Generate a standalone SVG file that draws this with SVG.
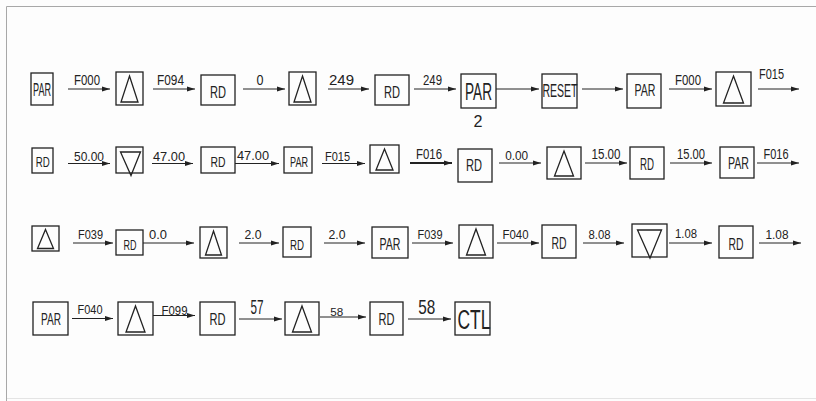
<svg xmlns="http://www.w3.org/2000/svg" width="816" height="401" viewBox="0 0 816 401">
<defs>
<marker id="ah" viewBox="0 0 8 6" refX="8" refY="3" markerWidth="8" markerHeight="6" markerUnits="userSpaceOnUse" orient="auto">
<path d="M0,0.6 L8,3 L0,5.4 Z" fill="#222"/>
</marker>
<style>
.b{fill:none;stroke:#222;stroke-width:1.3}
.t{font-family:"Liberation Sans Narrow","Liberation Sans",Arial,sans-serif;fill:#222;text-anchor:middle}
.c line{stroke:#222;stroke-width:1;marker-end:url(#ah)}
.c text{font-family:"Liberation Sans Narrow","Liberation Sans",Arial,sans-serif;fill:#222;text-anchor:middle}
</style>
</defs>
<rect x="0" y="0" width="816" height="401" fill="#fdfdfd"/>
<path d="M6.5,401 V6.5 H816" fill="none" stroke="#a8a8a8" stroke-width="1"/>
<line x1="7" y1="398.5" x2="816" y2="398.5" stroke="#e4e4e4" stroke-width="1"/>

<!-- Row 1 -->
<g id="n1"><rect class="b" x="31" y="73" width="22" height="32"/><text class="t" x="42" y="96" font-size="18" textLength="18" lengthAdjust="spacingAndGlyphs">PAR</text></g>
<g id="n2"><rect class="b" x="116" y="72" width="27" height="33"/><path class="b" d="M129.5,76 L138,102 L121,102 Z"/></g>
<g id="n3"><rect class="b" x="201" y="75" width="34" height="30"/><text class="t" x="218" y="98" font-size="16" textLength="16" lengthAdjust="spacingAndGlyphs">RD</text></g>
<g id="n4"><rect class="b" x="289" y="72" width="27" height="33"/><path class="b" d="M302.5,76 L311,102 L294,102 Z"/></g>
<g id="n5"><rect class="b" x="375" y="75" width="34" height="30"/><text class="t" x="392" y="98" font-size="16" textLength="16" lengthAdjust="spacingAndGlyphs">RD</text></g>
<g id="n6"><rect class="b" x="461" y="74" width="35" height="34"/><text class="t" x="478.5" y="100" font-size="23" textLength="27" lengthAdjust="spacingAndGlyphs">PAR</text><text class="t" x="478" y="127" font-size="17" textLength="9" lengthAdjust="spacingAndGlyphs">2</text></g>
<g id="n7"><rect class="b" x="542" y="74" width="35" height="34"/><text class="t" x="560" y="97" font-size="19" textLength="35" lengthAdjust="spacingAndGlyphs">RESET</text></g>
<g id="n8"><rect class="b" x="627" y="74" width="34" height="34"/><text class="t" x="645" y="96" font-size="16" textLength="21" lengthAdjust="spacingAndGlyphs">PAR</text></g>
<g id="n9"><rect class="b" x="716" y="72" width="35" height="34"/><path class="b" d="M733.5,76 L743.5,103 L723.5,103 Z"/></g>

<!-- Row 2 -->
<g id="n10"><rect class="b" x="32" y="148" width="21" height="25"/><text class="t" x="42.7" y="167" font-size="15" textLength="14" lengthAdjust="spacingAndGlyphs">RD</text></g>
<g id="n11"><rect class="b" x="116" y="147" width="27" height="26"/><path class="b" d="M120.5,152 L140.5,152 L131,175.5 Z"/></g>
<g id="n12"><rect class="b" x="201" y="147" width="34" height="26"/><text class="t" x="218" y="167" font-size="15" textLength="15" lengthAdjust="spacingAndGlyphs">RD</text></g>
<g id="n13"><rect class="b" x="284" y="147" width="28" height="26"/><text class="t" x="299" y="167" font-size="15" textLength="18" lengthAdjust="spacingAndGlyphs">PAR</text></g>
<g id="n14"><rect class="b" x="370" y="145" width="29" height="28"/><path class="b" d="M384.5,149 L393,170 L376,170 Z"/></g>
<g id="n15"><rect class="b" x="458" y="149" width="34" height="33"/><text class="t" x="474" y="170.5" font-size="17" textLength="16" lengthAdjust="spacingAndGlyphs">RD</text></g>
<g id="n16"><rect class="b" x="547" y="147" width="34" height="32"/><path class="b" d="M564,151 L573.5,176 L554.5,176 Z"/></g>
<g id="n17"><rect class="b" x="630" y="147" width="34" height="32"/><text class="t" x="647" y="170" font-size="16" textLength="14" lengthAdjust="spacingAndGlyphs">RD</text></g>
<g id="n18"><rect class="b" x="720" y="147" width="34" height="31"/><text class="t" x="738.5" y="168.5" font-size="16" textLength="21" lengthAdjust="spacingAndGlyphs">PAR</text></g>

<!-- Row 3 -->
<g id="n19"><rect class="b" x="32" y="226" width="27" height="25"/><path class="b" d="M45.5,229.5 L53.5,248.5 L37.5,248.5 Z"/></g>
<g id="n20"><rect class="b" x="116" y="230" width="27" height="25"/><text class="t" x="130" y="250" font-size="15" textLength="13" lengthAdjust="spacingAndGlyphs">RD</text></g>
<g id="n21"><rect class="b" x="200" y="227" width="27" height="31"/><path class="b" d="M213.5,231 L221.5,255 L205.5,255 Z"/></g>
<g id="n22"><rect class="b" x="283" y="227" width="28" height="30"/><text class="t" x="297" y="250" font-size="15" textLength="14" lengthAdjust="spacingAndGlyphs">RD</text></g>
<g id="n23"><rect class="b" x="372" y="227" width="36" height="31"/><text class="t" x="390" y="250" font-size="17" textLength="21" lengthAdjust="spacingAndGlyphs">PAR</text></g>
<g id="n24"><rect class="b" x="459" y="225" width="34" height="33"/><path class="b" d="M476,229 L485.5,255 L466.5,255 Z"/></g>
<g id="n25"><rect class="b" x="542" y="225" width="34" height="33"/><text class="t" x="559" y="248.5" font-size="16" textLength="15" lengthAdjust="spacingAndGlyphs">RD</text></g>
<g id="n26"><rect class="b" x="632" y="224" width="35" height="33"/><path class="b" d="M637.5,230 L661.5,230 L650,258 Z"/></g>
<g id="n27"><rect class="b" x="719" y="226" width="34" height="32"/><text class="t" x="736" y="250" font-size="17" textLength="15" lengthAdjust="spacingAndGlyphs">RD</text></g>

<!-- Row 4 -->
<g id="n28"><rect class="b" x="33" y="302" width="35" height="33"/><text class="t" x="51" y="325" font-size="16" textLength="20" lengthAdjust="spacingAndGlyphs">PAR</text></g>
<g id="n29"><rect class="b" x="118" y="302" width="35" height="33"/><path class="b" d="M135.5,306 L145,332 L126,332 Z"/></g>
<g id="n30"><rect class="b" x="200" y="302" width="35" height="33"/><text class="t" x="217.5" y="325" font-size="16" textLength="16" lengthAdjust="spacingAndGlyphs">RD</text></g>
<g id="n31"><rect class="b" x="285" y="302" width="34" height="33"/><path class="b" d="M302,306 L311.5,332 L292.5,332 Z"/></g>
<g id="n32"><rect class="b" x="370" y="302" width="33" height="33"/><text class="t" x="386.5" y="325" font-size="16" textLength="16" lengthAdjust="spacingAndGlyphs">RD</text></g>
<g id="n33"><rect class="b" x="455" y="302" width="35" height="33"/><text class="t" x="474" y="328.5" font-size="27" textLength="33" lengthAdjust="spacingAndGlyphs">CTL</text></g>

<g id="connectors" class="c">
<!-- Row 1 -->
<line x1="68" y1="89" x2="110" y2="89"/><text x="87" y="84.5" font-size="14" textLength="26" lengthAdjust="spacingAndGlyphs">F000</text>
<line x1="153" y1="89" x2="195" y2="89"/><text x="170.5" y="84.5" font-size="14" textLength="27" lengthAdjust="spacingAndGlyphs">F094</text>
<line x1="243" y1="89" x2="285" y2="89"/><text x="260" y="84.5" font-size="14" textLength="7" lengthAdjust="spacingAndGlyphs">0</text>
<line x1="328" y1="89" x2="369" y2="89"/><text x="341.5" y="84.5" font-size="14" textLength="25" lengthAdjust="spacingAndGlyphs">249</text>
<line x1="414" y1="89" x2="456" y2="89"/><text x="432.5" y="84.5" font-size="14" textLength="19" lengthAdjust="spacingAndGlyphs">249</text>
<line x1="496" y1="89" x2="539" y2="89"/>
<line x1="582" y1="89" x2="623" y2="89"/>
<line x1="669" y1="89" x2="712" y2="89"/><text x="688" y="85" font-size="14.5" textLength="26" lengthAdjust="spacingAndGlyphs">F000</text>
<line x1="758" y1="89" x2="799" y2="89"/><text x="771.5" y="79" font-size="14.5" textLength="25" lengthAdjust="spacingAndGlyphs">F015</text>
<!-- Row 2 -->
<line x1="68" y1="163.5" x2="110" y2="163.5"/><text x="89" y="161" font-size="13" textLength="30" lengthAdjust="spacingAndGlyphs">50.00</text>
<line x1="152" y1="163.5" x2="193" y2="163.5"/><text x="169" y="161" font-size="13" textLength="32" lengthAdjust="spacingAndGlyphs">47.00</text>
<line x1="235" y1="163.5" x2="279" y2="163.5"/><text x="253" y="160" font-size="13" textLength="32" lengthAdjust="spacingAndGlyphs">47.00</text>
<line x1="322" y1="163.5" x2="365" y2="163.5"/><text x="337.5" y="160.5" font-size="13" textLength="25" lengthAdjust="spacingAndGlyphs">F015</text>
<line x1="410" y1="163" x2="452" y2="163" style="stroke-width:2"/><text x="429" y="158.5" font-size="14" textLength="26" lengthAdjust="spacingAndGlyphs">F016</text>
<line x1="499" y1="163" x2="541" y2="163"/><text x="516.7" y="159.5" font-size="13" textLength="23" lengthAdjust="spacingAndGlyphs">0.00</text>
<line x1="585" y1="163" x2="627" y2="163"/><text x="606" y="159" font-size="14" textLength="29" lengthAdjust="spacingAndGlyphs">15.00</text>
<line x1="670" y1="163" x2="712" y2="163"/><text x="691" y="159" font-size="14" textLength="28" lengthAdjust="spacingAndGlyphs">15.00</text>
<line x1="757" y1="163" x2="799" y2="163"/><text x="776" y="158.5" font-size="14" textLength="25" lengthAdjust="spacingAndGlyphs">F016</text>
<!-- Row 3 -->
<line x1="73" y1="243" x2="113" y2="243"/><text x="90.5" y="238.5" font-size="12.5" textLength="25" lengthAdjust="spacingAndGlyphs">F039</text>
<line x1="143" y1="243" x2="194" y2="243"/><text x="158" y="239" font-size="12.5" textLength="18" lengthAdjust="spacingAndGlyphs">0.0</text>
<line x1="239" y1="243" x2="279" y2="243"/><text x="253" y="239" font-size="12.5" textLength="17" lengthAdjust="spacingAndGlyphs">2.0</text>
<line x1="324" y1="243" x2="365" y2="243"/><text x="337" y="239" font-size="12.5" textLength="17" lengthAdjust="spacingAndGlyphs">2.0</text>
<line x1="412" y1="243" x2="453" y2="243"/><text x="430" y="238.5" font-size="13" textLength="25" lengthAdjust="spacingAndGlyphs">F039</text>
<line x1="497" y1="243" x2="539" y2="243"/><text x="515.5" y="238.5" font-size="13" textLength="26" lengthAdjust="spacingAndGlyphs">F040</text>
<line x1="583" y1="243" x2="624" y2="243"/><text x="599.5" y="238.5" font-size="13" textLength="22" lengthAdjust="spacingAndGlyphs">8.08</text>
<line x1="669" y1="243" x2="712" y2="243"/><text x="686" y="237.5" font-size="13" textLength="22" lengthAdjust="spacingAndGlyphs">1.08</text>
<line x1="759" y1="243" x2="801" y2="243"/><text x="777" y="238.5" font-size="13" textLength="23" lengthAdjust="spacingAndGlyphs">1.08</text>
<!-- Row 4 -->
<line x1="72" y1="318.5" x2="113" y2="318.5"/><text x="90" y="313.5" font-size="13" textLength="25" lengthAdjust="spacingAndGlyphs">F040</text>
<line x1="153" y1="315.5" x2="195" y2="315.5"/><text x="174.5" y="314.5" font-size="13" textLength="26" lengthAdjust="spacingAndGlyphs">F099</text>
<line x1="239" y1="319" x2="282" y2="319"/><text x="257" y="313.5" font-size="21" textLength="13" lengthAdjust="spacingAndGlyphs">57</text>
<line x1="320" y1="317" x2="366" y2="317"/><text x="336.7" y="316" font-size="11" textLength="13" lengthAdjust="spacingAndGlyphs">58</text>
<line x1="408" y1="319" x2="451" y2="319"/><text x="426.7" y="313.5" font-size="21" textLength="17" lengthAdjust="spacingAndGlyphs">58</text>
</g>
</svg>
